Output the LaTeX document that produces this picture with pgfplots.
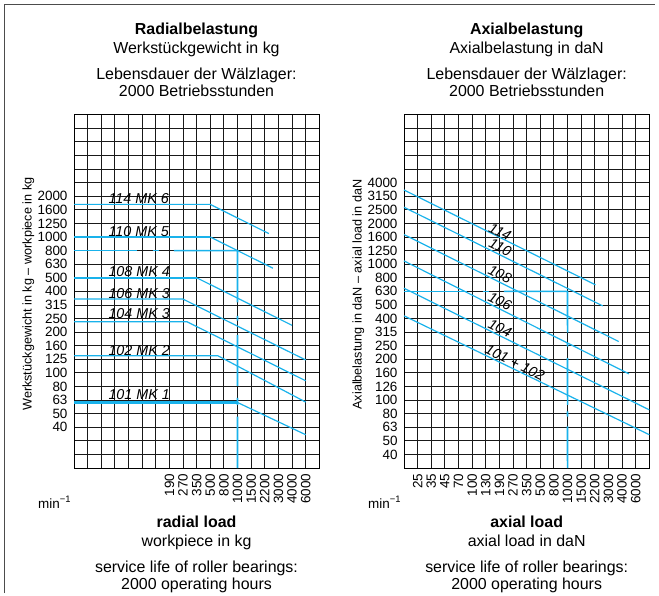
\documentclass[border=0pt]{standalone}
\usepackage{fontspec}
\setmainfont{Liberation Sans}
\usepackage{pgfplots}
\pgfplotsset{compat=1.18}
\definecolor{cy}{RGB}{25,178,235}
\begin{document}
\begin{tikzpicture}
\useasboundingbox (0,0) rectangle (659bp,-596bp);
\tikzset{cl/.style={cy, solid, line width=1.2bp, mark=none},
         rl/.style={cy, solid, line width=1.6bp, mark=none}}
\pgfplotsset{
 chart/.style={
  scale only axis, width=245.3bp, height=353.3bp, anchor=south west,
  xmin=0, xmax=18, xtick={0,...,18},
  grid=major, major grid style={black!90, line width=0.85bp},
  axis line style={black, line width=0.85bp},
  major tick length=0pt,
  tick label style={font=\fontsize{13.5}{14}\selectfont},
  /pgf/number format/assume math mode=true,
  xticklabel style={rotate=90, anchor=east},
  xticklabel shift=2.5bp,
  yticklabel shift=3bp,
 },
 over/.style={
  scale only axis, width=245.3bp, height=353.3bp, anchor=south west,
  xmin=0, xmax=18, hide axis, clip=false,
 }}
% ---------------- left panel: grid ----------------
\begin{axis}[chart, at={(74bp,-468bp)},
  ymin=-3, ymax=23, ytick={-3,...,23},
  yticklabels={,,,40,50,63,80,100,125,160,200,250,315,400,500,630,800,1000,1250,1600,2000,,,,,,},
  xticklabels={,,,,,,,190,270,350,500,800,1000,1500,2200,3000,4000,6000,}]
\addplot[draw=none, mark=none] coordinates {(0,0) (18,20)};
\end{axis}
% ---------------- left panel: curves ----------------
\begin{axis}[over, at={(74bp,-468bp)}, ymin=-3, ymax=23]
\addplot[cl] coordinates {(0,16.4) (10,16.4) (14.3,14.25)};
\addplot[rl] coordinates {(0,14.0) (10,14.0)};
\addplot[cl] coordinates {(10,14.0) (14.6,11.7)};
\addplot[rl] coordinates {(0,11.0) (9,11.0)};
\addplot[cl] coordinates {(9,11.0) (16,7.5)};
\addplot[cl] coordinates {(0,9.43) (8,9.43) (17,4.95)};
\addplot[cl] coordinates {(0,7.76) (8.3,7.76) (17,3.42)};
\addplot[cl] coordinates {(0,5.26) (10.56,5.26) (17,1.85)};
\addplot[cl, line width=2.1bp] coordinates {(0,1.82) (12,1.82)};
\addplot[cl] coordinates {(12,1.82) (17,-0.55)};
% dashed reading line
\addplot[rl] coordinates {(0,13) (4.6,13)};
\addplot[rl] coordinates {(5.77,13) (6.25,13)};
\addplot[rl] coordinates {(7.32,13) (12,13) (12.001,9.18)};
\addplot[rl] coordinates {(12,8.2) (12.001,7.85)};
\addplot[rl] coordinates {(12,6.8) (12.001,3.05)};
\addplot[rl] coordinates {(12,2.17) (12.001,1.65)};
\addplot[rl] coordinates {(12,0.79) (12.001,-3)};
\end{axis}
% ---------------- right panel: grid ----------------
\begin{axis}[chart, at={(404bp,-468bp)},
  ymin=-1, ymax=25, ytick={-1,...,25},
  yticklabels={,40,50,63,80,100,126,160,200,250,315,400,500,630,800,1000,1250,1600,2000,2500,3150,4000,,,,,},
  xticklabels={,25,35,45,70,100,130,190,270,350,500,800,1000,1500,2200,3000,4000,6000,}]
\addplot[draw=none, mark=none] coordinates {(0,0) (18,20)};
\end{axis}
% ---------------- right panel: curves ----------------
\begin{axis}[over, at={(404bp,-468bp)}, ymin=-1, ymax=25]
\addplot[cl] coordinates {(0,19.46) (14.05,12.48)};
\addplot[cl] coordinates {(0,18.19) (14.58,10.93)};
\addplot[cl] coordinates {(0,16.18) (15.75,8.31)};
\addplot[cl] coordinates {(0,14.24) (16.5,5.93)};
\addplot[cl] coordinates {(0,12.23) (18,3.28)};
\addplot[cl] coordinates {(0,10.2) (18,1.45)};
% dashed reading line
\addplot[rl] coordinates {(0,12) (4.6,12)};
\addplot[rl] coordinates {(5.77,12) (6.25,12)};
\addplot[rl] coordinates {(7.33,12) (12,12) (12.001,8.97)};
\addplot[rl] coordinates {(12,8.21) (12.001,7.94)};
\addplot[rl] coordinates {(12,7.09) (12.001,3.65)};
\addplot[rl] coordinates {(12,3.16) (12.001,2.79)};
\addplot[rl] coordinates {(12,2.06) (12.001,-1)};
\end{axis}
% ---------------- frame ----------------
\draw[black!70, line width=0.8bp] (4bp,-593bp) -- (4bp,-4bp) -- (655bp,-4bp);
% ---------------- texts ----------------
\begin{scope}[every node/.style={inner sep=0pt, anchor=base}]
\node[font=\fontsize{16}{19}\selectfont\bfseries] at (196.5bp,-34.5bp) {Radialbelastung};
\node[font=\fontsize{16}{19}\selectfont] at (196.5bp,-53bp) {Werkstückgewicht in kg};
\node[font=\fontsize{16}{19}\selectfont] at (196.5bp,-79.5bp) {Lebensdauer der Wälzlager:};
\node[font=\fontsize{16}{19}\selectfont] at (196.5bp,-96.5bp) {2000 Betriebsstunden};
\node[font=\fontsize{16}{19}\selectfont\bfseries] at (526.7bp,-34.5bp) {Axialbelastung};
\node[font=\fontsize{16}{19}\selectfont] at (526.7bp,-53bp) {Axialbelastung in daN};
\node[font=\fontsize{16}{19}\selectfont] at (526.7bp,-79.5bp) {Lebensdauer der Wälzlager:};
\node[font=\fontsize{16}{19}\selectfont] at (526.7bp,-96.5bp) {2000 Betriebsstunden};
\node[font=\fontsize{16}{19}\selectfont\bfseries] at (196.5bp,-527bp) {radial load};
\node[font=\fontsize{16}{19}\selectfont] at (196.5bp,-546bp) {workpiece in kg};
\node[font=\fontsize{16}{19}\selectfont] at (196.5bp,-572bp) {service life of roller bearings:};
\node[font=\fontsize{16}{19}\selectfont] at (196.5bp,-589bp) {2000 operating hours};
\node[font=\fontsize{16}{19}\selectfont\bfseries] at (526.7bp,-527bp) {axial load};
\node[font=\fontsize{16}{19}\selectfont] at (526.7bp,-546bp) {axial load in daN};
\node[font=\fontsize{16}{19}\selectfont] at (526.7bp,-572bp) {service life of roller bearings:};
\node[font=\fontsize{16}{19}\selectfont] at (526.7bp,-589bp) {2000 operating hours};
\node[font=\fontsize{13.5}{14}\selectfont, anchor=base west] at (38bp,-508bp) {min\textsuperscript{−1}};
\node[font=\fontsize{13.5}{14}\selectfont, anchor=base west] at (368bp,-508bp) {min\textsuperscript{−1}};
\end{scope}
\node[font=\fontsize{12.7}{14}\selectfont, rotate=90, inner sep=0pt] at (28.3bp,-294bp) {Werkstückgewicht in kg – workpiece in kg};
\node[font=\fontsize{12.7}{14}\selectfont, rotate=90, inner sep=0pt] at (358.3bp,-294.5bp) {Axialbelastung in daN – axial load in daN};
% curve labels left
\begin{scope}[every node/.style={inner sep=0pt, anchor=base west, font=\fontsize{14.4}{16}\selectfont\itshape}]
\node at (108.3bp,-203.5bp) {114 MK 6};
\node at (108.3bp,-236bp) {110 MK 5};
\node at (108.3bp,-276bp) {108 MK 4};
\node at (108.3bp,-298bp) {106 MK 3};
\node at (108.3bp,-318.5bp) {104 MK 3};
\node at (108.3bp,-355bp) {102 MK 2};
\node at (108.3bp,-399bp) {101 MK 1};
\end{scope}
% curve labels right
\begin{scope}[every node/.style={inner sep=0pt, rotate=-26.5, font=\fontsize{14.4}{16}\selectfont\itshape}]
\node at (500bp,-231.7bp) {114};
\node at (500.3bp,-247.3bp) {110};
\node at (500bp,-274bp) {108};
\node at (500bp,-301bp) {106};
\node at (500bp,-328.3bp) {104};
\node at (515bp,-362.7bp) {101 + 102};
\end{scope}
\end{tikzpicture}
\end{document}
